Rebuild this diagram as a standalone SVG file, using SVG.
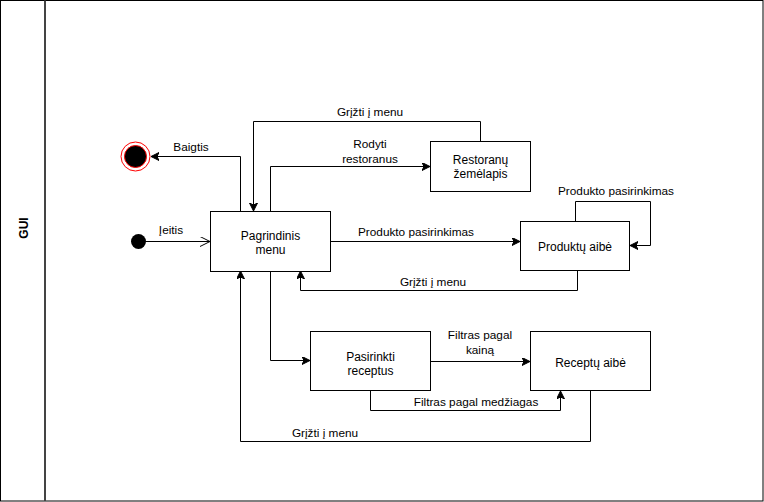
<svg xmlns="http://www.w3.org/2000/svg" width="764" height="502" viewBox="0 0 764 502">
  <style>
    .box { fill: #fff; stroke: #000; stroke-width: 1; }
    .edge { fill: none; stroke: #000; stroke-width: 1; }
    .node-text { font-family: "Liberation Sans", Arial, sans-serif; font-size: 12px; fill: #000; text-anchor: middle; }
    .label { font-family: "Liberation Sans", Arial, sans-serif; font-size: 11.8px; fill: #000; text-anchor: middle; }
    .title { font-family: "Liberation Sans", Arial, sans-serif; font-size: 12px; font-weight: bold; fill: #000; text-anchor: middle; }
  </style>
  <defs>
    <marker id="arrow" markerUnits="userSpaceOnUse" markerWidth="10" markerHeight="10" refX="8" refY="4" orient="auto">
      <path d="M0,0 L8,4 L0,8 L2,4 Z" fill="#000" stroke="#000" stroke-width="1"/>
    </marker>
    <marker id="open" markerUnits="userSpaceOnUse" markerWidth="12" markerHeight="12" refX="10" refY="5" orient="auto">
      <path d="M0,0 L10,5 L0,10" fill="none" stroke="#000" stroke-width="1"/>
    </marker>
  </defs>

  <rect width="764" height="502" fill="#fff"/>

  <!-- swimlane -->
  <g id="lane">
    <rect x="0.5" y="0.5" width="762.5" height="500.5" fill="none" stroke="#000" stroke-width="1"/>
    <line x1="45" y1="0.5" x2="45" y2="501" stroke="#444" stroke-width="2"/>
    <text class="title" transform="translate(28,228) rotate(-90)">GUI</text>
  </g>

  <!-- connectors -->
  <g id="connectors">
    <path class="edge" d="M145.5,241.5 H210" marker-end="url(#open)"/>
    <path class="edge" d="M240.5,211 V156.5 H151" marker-end="url(#arrow)"/>
    <path class="edge" d="M270.5,211 V166.5 H430" marker-end="url(#arrow)"/>
    <path class="edge" d="M480.5,141 V121.5 H253.5 V211" marker-end="url(#arrow)"/>
    <path class="edge" d="M330,241.5 H520" marker-end="url(#arrow)"/>
    <path class="edge" d="M575.5,221 V201.5 H650.5 V245.5 H630" marker-end="url(#arrow)"/>
    <path class="edge" d="M577.5,271 V290.5 H300.5 V271" marker-end="url(#arrow)"/>
    <path class="edge" d="M270.5,271 V360.5 H310" marker-end="url(#arrow)"/>
    <path class="edge" d="M430,361.5 H530" marker-end="url(#arrow)"/>
    <path class="edge" d="M370.5,391 V410.5 H560.5 V391" marker-end="url(#arrow)"/>
    <path class="edge" d="M590.5,391 V441.5 H240.5 V271" marker-end="url(#arrow)"/>

    <text class="label" x="171" y="234">Įeitis</text>
    <text class="label" x="191" y="151">Baigtis</text>
    <text class="label" x="370" y="148">Rodyti</text>
    <text class="label" x="370" y="163">restoranus</text>
    <text class="label" x="370" y="116">Grįžti į menu</text>
    <text class="label" x="416" y="236">Produkto pasirinkimas</text>
    <text class="label" x="616" y="195">Produkto pasirinkimas</text>
    <text class="label" x="433" y="286">Grįžti į menu</text>
    <text class="label" x="480" y="339">Filtras pagal</text>
    <text class="label" x="480" y="354">kainą</text>
    <text class="label" x="476" y="406">Filtras pagal medžiagas</text>
    <text class="label" x="325" y="437">Grįžti į menu</text>
  </g>

  <!-- states -->
  <g id="start">
    <circle cx="138.5" cy="241.5" r="7.5" fill="#000"/>
  </g>
  <g id="end">
    <circle cx="135.5" cy="156.5" r="14.5" fill="#fff" stroke="#f00" stroke-width="1"/>
    <circle cx="135.5" cy="156.5" r="11" fill="#000" stroke="#f00" stroke-width="1"/>
  </g>
  <g id="pagrindinis-menu">
    <rect class="box" x="210.5" y="211.5" width="120" height="60"/>
    <text class="node-text" x="270.5" y="239.5">Pagrindinis</text>
    <text class="node-text" x="270.5" y="253.5">menu</text>
  </g>
  <g id="restoranu-zemelapis">
    <rect class="box" x="430.5" y="141.5" width="100" height="50"/>
    <text class="node-text" x="480.5" y="164">Restoranų</text>
    <text class="node-text" x="480.5" y="178">žemėlapis</text>
  </g>
  <g id="produktu-aibe">
    <rect class="box" x="520.5" y="221.5" width="109" height="49"/>
    <text class="node-text" x="575" y="251">Produktų aibė</text>
  </g>
  <g id="pasirinkti-receptus">
    <rect class="box" x="310.5" y="331.5" width="120" height="59"/>
    <text class="node-text" x="370.5" y="361">Pasirinkti</text>
    <text class="node-text" x="370.5" y="375">receptus</text>
  </g>
  <g id="receptu-aibe">
    <rect class="box" x="530.5" y="331.5" width="120" height="59"/>
    <text class="node-text" x="590.5" y="367">Receptų aibė</text>
  </g>
</svg>
